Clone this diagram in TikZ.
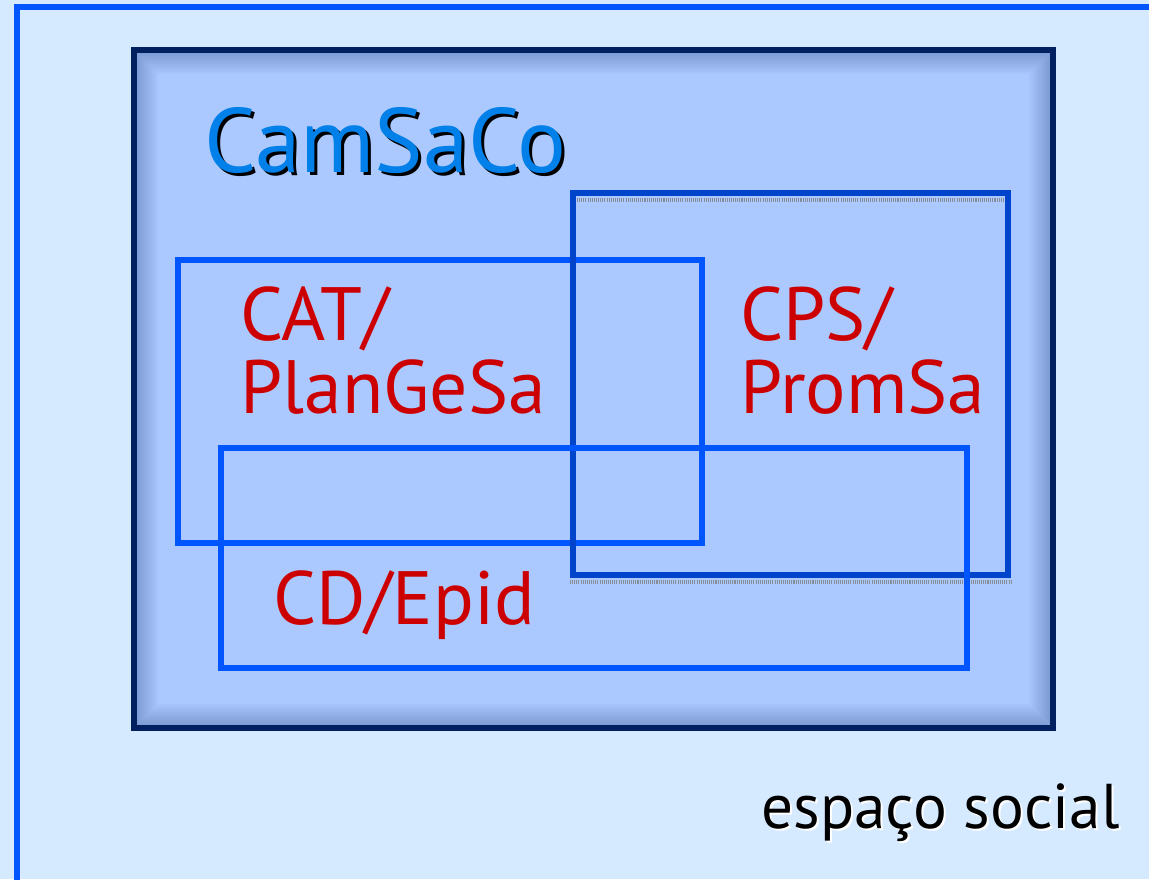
\documentclass[tikz,border=0pt]{standalone}
\usepackage{fontspec}
\setmainfont{PT Sans}
\definecolor{bgblue}{HTML}{D6EAFF}
\definecolor{boxfill}{HTML}{ABC8FF}
\definecolor{navy}{HTML}{00205F}
\definecolor{brightblue}{HTML}{0055FF}
\definecolor{darkblue}{HTML}{0044CC}
\definecolor{titleblue}{HTML}{0080E8}
\definecolor{labelred}{HTML}{CC0000}
\begin{document}
\begin{tikzpicture}[x=0.02cm, y=-0.02cm, line join=miter,
	region/.style={draw=brightblue, line width=3.6pt},
	label/.style={text=labelred, inner sep=0pt, anchor=north west, align=left, font=\fontsize{43}{42}\selectfont}]
	\def\W{1149} \def\H{879}
	\useasboundingbox (0,0) rectangle (\W,\H);
	\fill[bgblue] (0,0) rectangle (\W,\H);
	% outer frame (cut by the page)
	\draw[brightblue, line width=3.4pt] (17,\H+10)--(17,7)--(\W+10,7);
	% CamSaCo box with inner shadow
	\fill[boxfill] (134,50) rectangle (1053,728);
	\begin{scope}
		\clip (134,50) rectangle (1053,728);
		\foreach \w in {4,8,...,48}
			\draw[navy, line width=\w*0.57pt, opacity=0.025] (134,50) rectangle (1053,728);
	\end{scope}
	\draw[navy, line width=3.4pt] (134,50) rectangle (1053,728);
	\node[text=black, inner sep=0pt, anchor=base west, font=\fontsize{52}{52}\selectfont] (titleshadow) at (207,175) {CamSaCo};
	\node[text=titleblue, inner sep=0pt, anchor=base west, font=\fontsize{52}{52}\selectfont] (title) at (204,172) {CamSaCo};
	% the three areas
	\draw[region] (178,260) rectangle (702,543);
	\draw[region, draw=darkblue, line width=3.8pt] (573,193) rectangle (1008,575);
	\draw[gray, line width=1.8pt, dash pattern=on 0.6pt off 0.6pt, opacity=0.8] (577,200)--(1004,200) (570,582)--(1012,582);
	\draw[region] (221,448) rectangle (967,668);
	\node[label] (cat) at (240,286) {CAT/\\PlanGeSa};
	\node[label] (cps) at (740,286) {CPS/\\PromSa};
	\node[label] (cd) at (273,570) {CD/Epid};
	% social space
	\node[text=white, inner sep=0pt, anchor=base east, font=\fontsize{36}{36}\selectfont] (spaceshadow) at (1122,830) {espaço social};
	\node[text=black, inner sep=0pt, anchor=base east, font=\fontsize{36}{36}\selectfont] (space) at (1120,828) {espaço social};
\end{tikzpicture}
\end{document}
